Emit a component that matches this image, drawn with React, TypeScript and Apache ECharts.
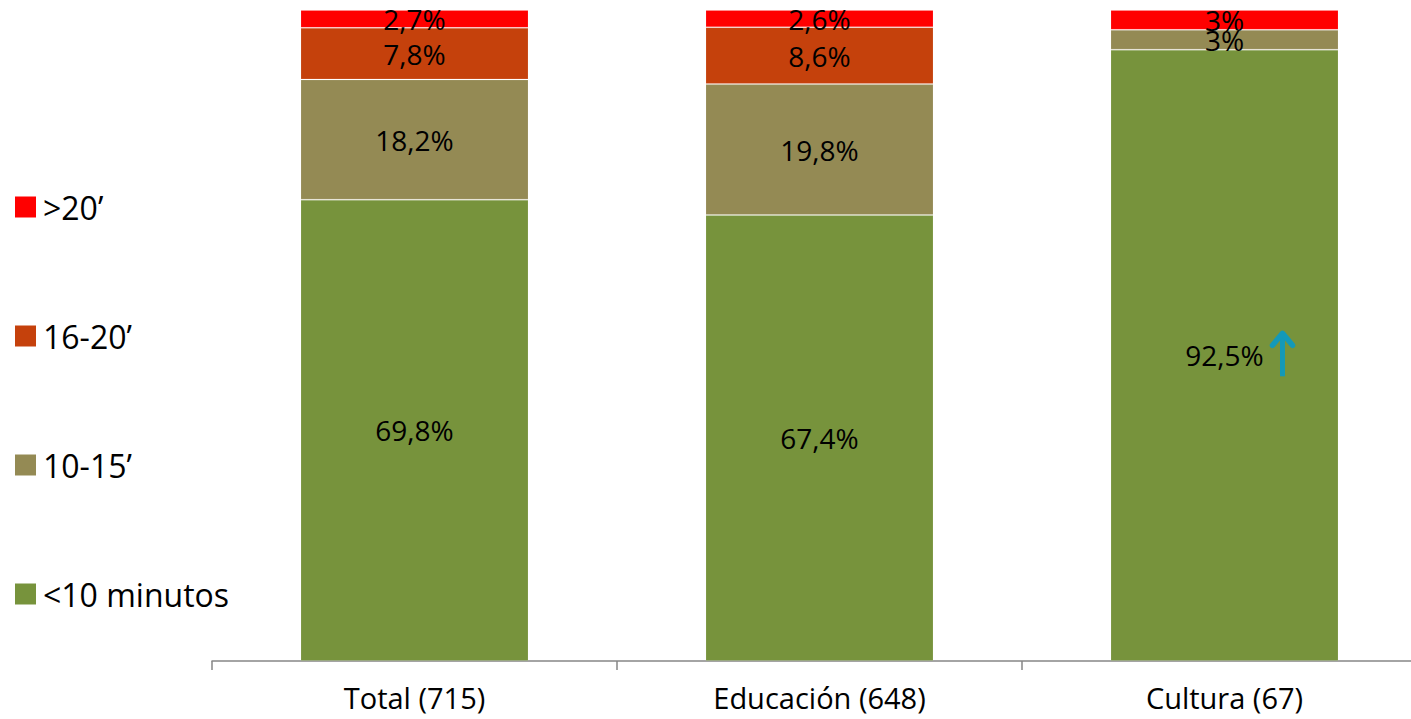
import React, { useEffect, useRef } from "react";
import * as echarts from "echarts";

// Commuting time by sector (share of respondents, %)
const categories = ["Total (715)", "Educación (648)", "Cultura (67)"];
const seriesNames = ["<10 minutos", "10-15’", "16-20’", ">20’"];
const under10 = [69.8, 67.4, 92.5];
const from10to15 = [18.2, 19.8, 3];
const from16to20 = [7.8, 8.6, 0];
const over20 = [2.7, 2.6, 3];
// sectors flagged with an upward trend arrow
const trendUp = ["Cultura (67)"];

const colors = ["#77933C", "#948A54", "#C5410C", "#FF0000"];
const TEAL = "#1499B8";
const FONT = "'Open Sans', sans-serif";

const fmt = (v: number) => String(v).replace(".", ",") + "%";

export default function App() {
  const ref = useRef<HTMLDivElement>(null);

  useEffect(() => {
    if (!ref.current) return;
    const chart = echarts.init(ref.current, null, { renderer: "svg" });
    const raw = [under10, from10to15, from16to20, over20];
    // each column is scaled to fill 100% of the bar height
    const totals = categories.map((_, i) => raw.reduce((s, arr) => s + arr[i], 0));

    const series: any[] = raw.map((arr, si) => ({
      name: seriesNames[si],
      type: "bar",
      stack: "all",
      barWidth: 228,
      itemStyle: {
        color: colors[si],
        borderColor: "rgba(255,255,255,0.12)",
        borderWidth: 1,
      },
      label: {
        show: true,
        position: "inside",
        color: "#000",
        fontFamily: FONT,
        fontSize: 28,
        formatter: (p: any) => (arr[p.dataIndex] > 0 ? fmt(arr[p.dataIndex]) : ""),
      },
      data: arr.map((v, i) => (v / totals[i]) * 100),
    }));

    // arrow placed beside the label in the middle of the green segment
    const arrowData = trendUp.map((c) => {
      const i = categories.indexOf(c);
      return [i, (under10[i] / totals[i]) * 100 / 2];
    });
    series.push({
      name: "trend",
      type: "custom",
      silent: true,
      z: 10,
      data: arrowData,
      renderItem: (params: any, api: any) => {
        const [x, y] = api.coord([api.value(0), api.value(1)]);
        const ax = x + 58;
        const top = y - 24;
        const bottom = y + 21;
        return {
          type: "group",
          children: [
            {
              type: "line",
              shape: { x1: ax, y1: top + 3, x2: ax, y2: bottom },
              style: { stroke: TEAL, lineWidth: 5 },
            },
            {
              type: "polyline",
              shape: { points: [[ax - 10, top + 14], [ax, top + 2], [ax + 10, top + 14]] },
              style: { stroke: TEAL, lineWidth: 5.5, fill: null, lineCap: "round", lineJoin: "round" },
            },
          ],
        };
      },
    });

    chart.setOption({
      animation: false,
      grid: { left: 212, right: 4, top: 10, bottom: 58, containLabel: false },
      legend: {
        orient: "vertical",
        left: 15,
        top: 191,
        padding: 0,
        icon: "rect",
        itemWidth: 21,
        itemHeight: 21,
        itemGap: 97,
        itemStyle: { borderWidth: 0 },
        data: [...seriesNames].reverse(),
        textStyle: { fontFamily: FONT, fontSize: 32, color: "#000", padding: [0, 0, 0, 2] },
      },
      xAxis: {
        type: "category",
        data: categories,
        axisLine: { lineStyle: { color: "#868686", width: 1.5 } },
        axisTick: { show: true, length: 9, lineStyle: { color: "#868686", width: 1.5 } },
        axisLabel: { color: "#000", fontFamily: FONT, fontSize: 29, margin: 22 },
      },
      yAxis: { type: "value", min: 0, max: 100, show: false, splitLine: { show: false } },
      series,
    });

    return () => chart.dispose();
  }, []);

  return (
    <div
      style={{ position: "fixed", left: 0, top: 0, width: 1411, height: 719, overflow: "hidden", background: "#fff" }}
    >
      <div ref={ref} style={{ width: 1431, height: 719 }} />
    </div>
  );
}
